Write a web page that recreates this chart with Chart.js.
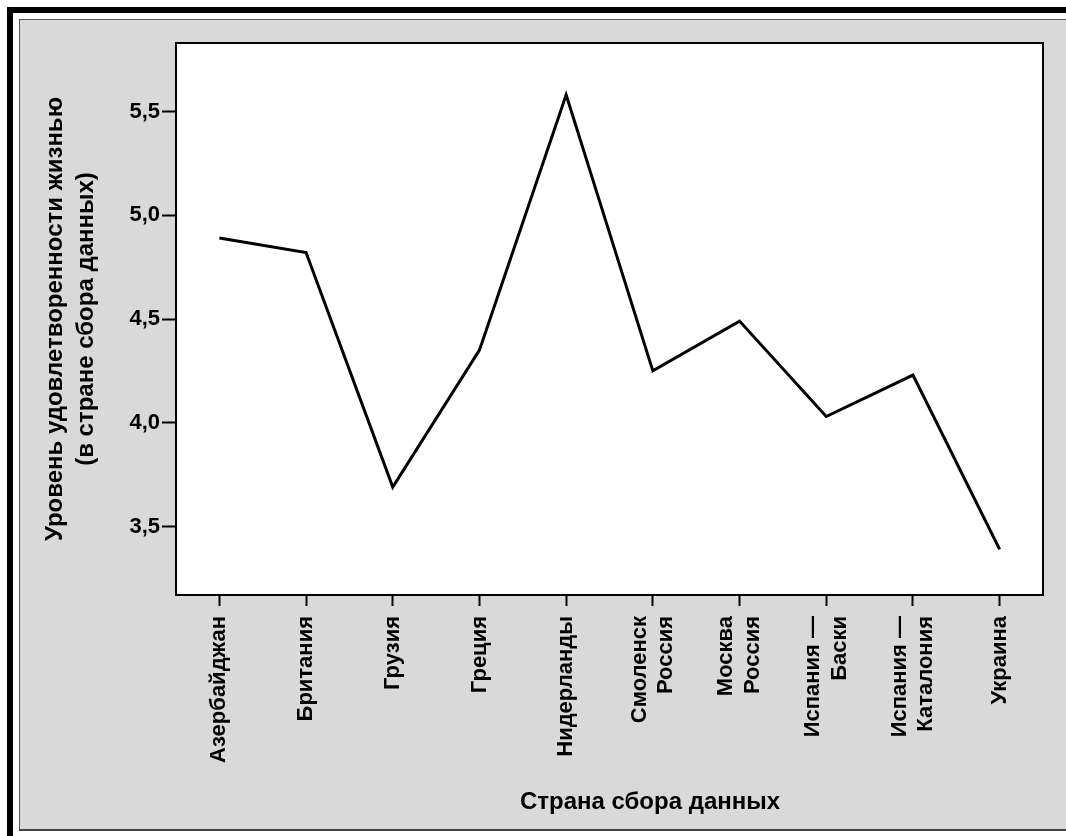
<!DOCTYPE html>
<html lang="ru">
<head>
    <meta charset="UTF-8">
    <title>Уровень удовлетворенности жизнью</title>
    <script src="https://cdn.jsdelivr.net/npm/chart.js"></script>
    <style>
        body { margin: 0; background: #ffffff; width: 1066px; height: 836px; overflow: hidden; position: relative; }
        .frame { position: absolute; left: 7px; top: 7px; width: 1200px; height: 1000px; border: 6px solid #000; box-sizing: border-box; }
        .panel { position: absolute; left: 19px; top: 19px; width: 1100px; height: 812px; background: #d9d9d9;
                 border-top: 1px solid #555; border-left: 1px solid #555; border-bottom: 2px solid #444; box-sizing: border-box; }
        #chartBox { position: absolute; left: 20px; top: 20px; width: 1046px; height: 811px; }
    </style>
</head>
<body>
    <div class="frame"></div>
    <div class="panel"></div>
    <div id="chartBox"><canvas id="lifeChart"></canvas></div>

    <script>
        // Data
        const countries = [
            'Азербайджан', 'Британия', 'Грузия', 'Греция', 'Нидерланды',
            ['Смоленск', 'Россия'], ['Москва', 'Россия'],
            ['Испания —', 'Баски'], ['Испания —', 'Каталония'], 'Украина'
        ];
        const satisfaction = [4.89, 4.82, 3.69, 4.35, 5.58, 4.25, 4.49, 4.03, 4.23, 3.39];
        const yTicks = [3.5, 4.0, 4.5, 5.0, 5.5];
        const yTitle = ['Уровень удовлетворенности жизнью', '(в стране сбора данных)'];
        const xTitle = 'Страна сбора данных';

        const fontFamily = '"Liberation Sans", Arial, sans-serif';

        // white plot area, full border, x title, centre the two-line tick labels
        const framePlugin = {
            id: 'framePlugin',
            beforeDraw(chart) {
                const { ctx, chartArea: a } = chart;
                ctx.save();
                ctx.fillStyle = '#ffffff';
                ctx.fillRect(a.left, a.top, a.right - a.left, a.bottom - a.top);
                ctx.restore();

                const xs = chart.scales.x;
                const items = xs.getLabelItems();
                if (!xs._shifted) {
                    items.forEach(item => {
                        if (Array.isArray(item.label)) {
                            const lh = item.font.lineHeight;
                            item.options.translation[0] -= (item.label.length - 1) * lh / 2;
                        }
                    });
                    xs._shifted = true;
                }
            },
            afterDraw(chart) {
                const { ctx, chartArea: a } = chart;
                ctx.save();
                ctx.strokeStyle = '#000';
                ctx.lineWidth = 2;
                ctx.strokeRect(a.left, a.top, a.right - a.left, a.bottom - a.top);
                ctx.fillStyle = '#000';
                ctx.font = 'bold 24px ' + fontFamily;
                ctx.textAlign = 'center';
                ctx.textBaseline = 'middle';
                ctx.fillText(xTitle, 630, 782);
                ctx.restore();
            }
        };

        const ctx = document.getElementById('lifeChart').getContext('2d');
        new Chart(ctx, {
            type: 'line',
            data: {
                labels: countries,
                datasets: [{
                    data: satisfaction,
                    borderColor: '#000',
                    borderWidth: 3,
                    pointRadius: 0,
                    tension: 0,
                    fill: false
                }]
            },
            options: {
                responsive: true,
                maintainAspectRatio: false,
                animation: false,
                layout: { padding: { top: 23, right: 23, left: 0, bottom: 0 } },
                plugins: { legend: { display: false }, tooltip: { enabled: false } },
                scales: {
                    x: {
                        offset: true,
                        grid: { drawOnChartArea: false, drawTicks: true, tickLength: 11, tickColor: '#000', tickWidth: 2, offset: false },
                        border: { display: true, color: '#000', width: 2 },
                        ticks: {
                            color: '#000', padding: 10, autoSkip: false,
                            maxRotation: 90, minRotation: 90,
                            font: { family: fontFamily, size: 22, weight: 'bold', lineHeight: 1.2 }
                        },
                        afterFit(scale) { scale.height = 236; }
                    },
                    y: {
                        min: 3.17,
                        max: 5.83,
                        grid: { drawOnChartArea: false, drawTicks: true, tickLength: 14, tickColor: '#000', tickWidth: 2 },
                        border: { display: true, color: '#000', width: 2 },
                        ticks: {
                            color: '#000', padding: 2,
                            font: { family: fontFamily, size: 22, weight: 'bold' },
                            callback: v => v.toFixed(1).replace('.', ',')
                        },
                        afterBuildTicks(scale) { scale.ticks = yTicks.map(v => ({ value: v })); },
                        title: {
                            display: true,
                            text: yTitle,
                            color: '#000',
                            padding: { top: 20, bottom: 0 },
                            font: { family: fontFamily, size: 24, weight: 'bold', lineHeight: 1.3 }
                        },
                        afterFit(scale) { scale.width = 156; }
                    }
                }
            },
            plugins: [framePlugin]
        });
    </script>
</body>
</html>
